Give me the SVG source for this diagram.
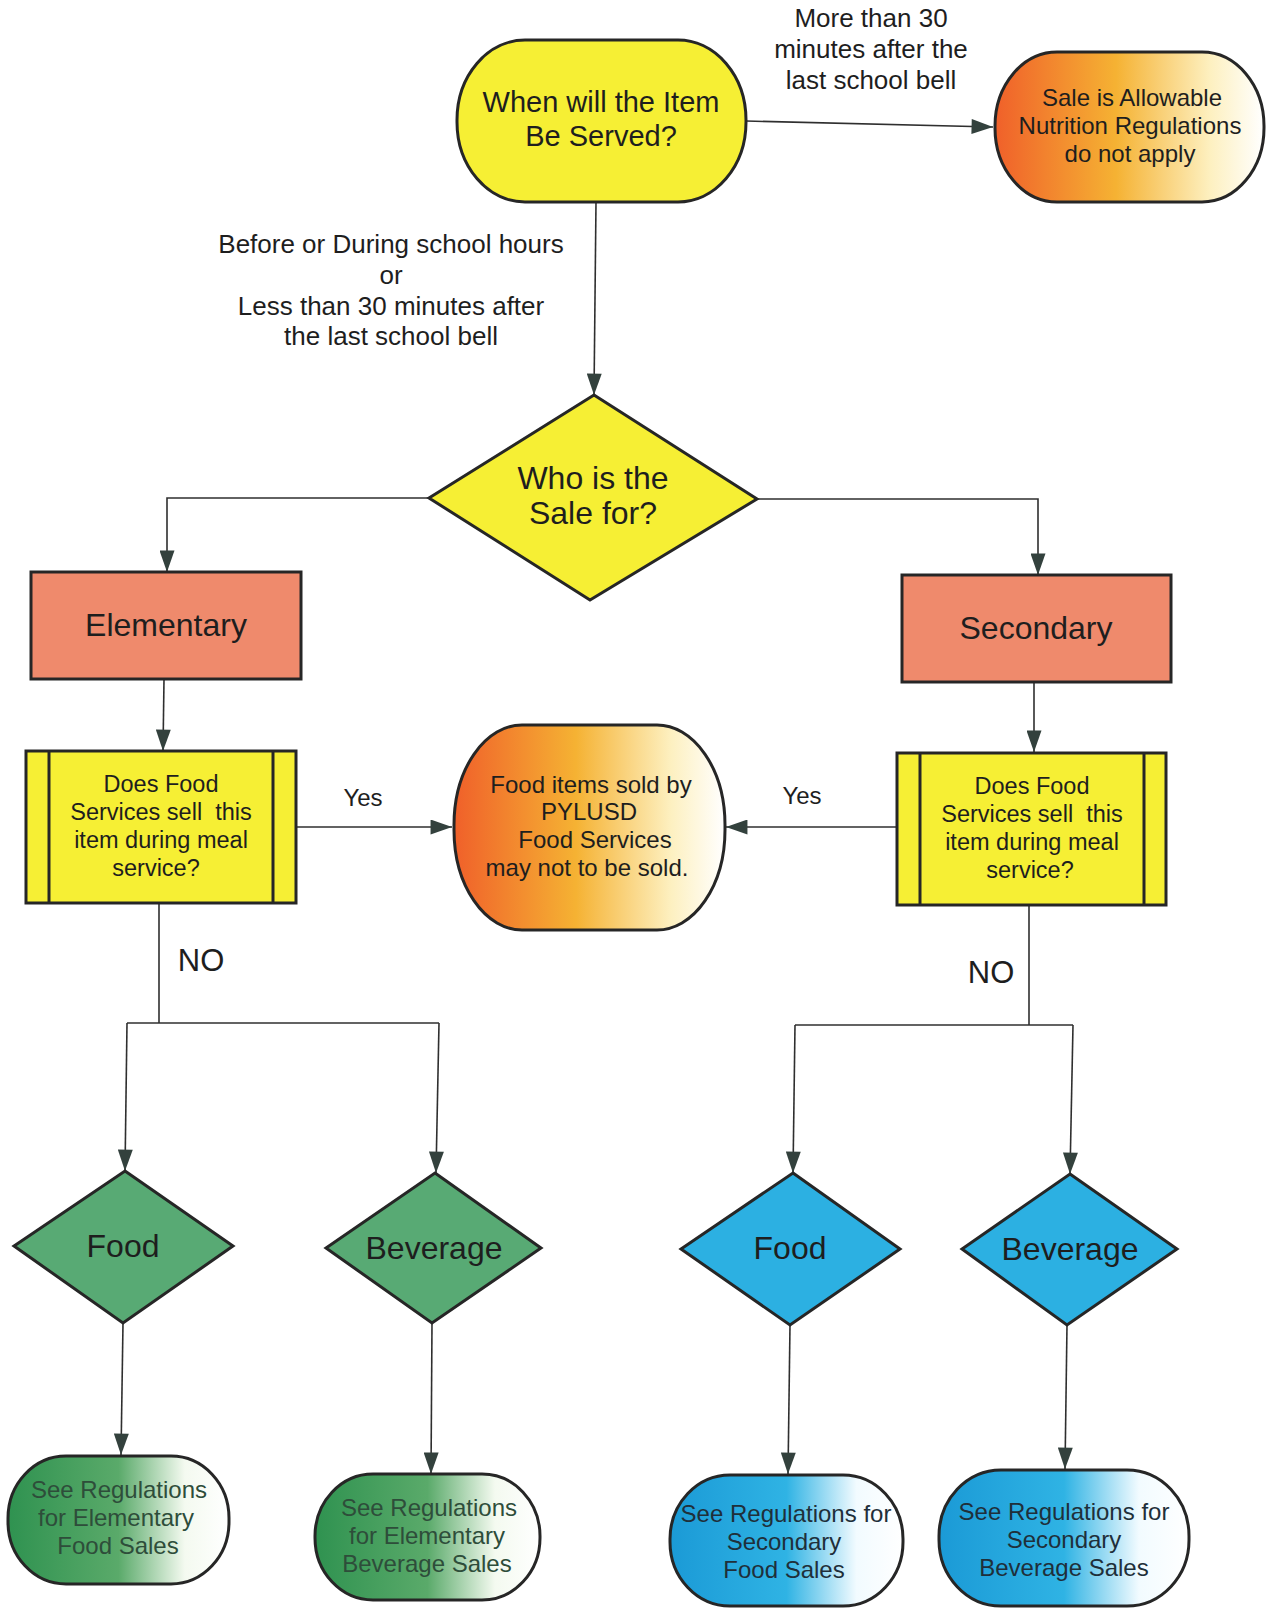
<svg xmlns="http://www.w3.org/2000/svg" width="1267" height="1608" viewBox="0 0 1267 1608">
<defs>
<marker id="arr" viewBox="0 0 20 14" refX="20" refY="7" markerWidth="22" markerHeight="15" markerUnits="userSpaceOnUse" orient="auto">
<path d="M0,0 L20,7 L0,14 z" fill="#33413d"/>
</marker>
<linearGradient id="gOrange" x1="0" y1="0" x2="1" y2="0">
<stop offset="0" stop-color="#f0602a"/>
<stop offset="0.45" stop-color="#f5b233"/>
<stop offset="0.8" stop-color="#fdf0c0"/>
<stop offset="1" stop-color="#ffffff"/>
</linearGradient>
<linearGradient id="gGreen" x1="0" y1="0" x2="1" y2="0">
<stop offset="0" stop-color="#2f9250"/>
<stop offset="0.5" stop-color="#5aaa6a"/>
<stop offset="0.8" stop-color="#f4faf0"/>
<stop offset="1" stop-color="#ffffff"/>
</linearGradient>
<linearGradient id="gBlue" x1="0" y1="0" x2="1" y2="0">
<stop offset="0" stop-color="#1b9ad6"/>
<stop offset="0.5" stop-color="#2fb3e4"/>
<stop offset="0.8" stop-color="#f2fbff"/>
<stop offset="1" stop-color="#ffffff"/>
</linearGradient>
</defs>
<style>
.t{font-family:"Liberation Sans",Arial,sans-serif;fill:#1e1e1e;text-anchor:middle;white-space:pre}
.node{stroke:#262626;stroke-width:3}
.yel{fill:#f6ef34}
.sal{fill:#ef8a6c}
.grn{fill:#58aa74}
.blu{fill:#2cb0e2}
.conn{fill:none;stroke:#2f2f2f;stroke-width:1.6}
.lbl{font-size:26px}
.big{font-size:29px}
.dia{font-size:32px}
.sm{font-size:23.5px}
.term{font-size:24px}
.ot{font-size:24px}
.gt{fill:#2e4d3a}
.bt{fill:#1f2f3a}
</style>

<g id="connectors">
<path class="conn" d="M746,121 L993,127" marker-end="url(#arr)"/>
<path class="conn" d="M596,202 L594,395" marker-end="url(#arr)"/>
<path class="conn" d="M429,498 L167,498 L167,572" marker-end="url(#arr)"/>
<path class="conn" d="M757,499 L1038,499 L1038,575" marker-end="url(#arr)"/>
<path class="conn" d="M164,679 L163,751" marker-end="url(#arr)"/>
<path class="conn" d="M1034,682 L1034,752" marker-end="url(#arr)"/>
<path class="conn" d="M296,827 L452,827" marker-end="url(#arr)"/>
<path class="conn" d="M897,827 L726,827" marker-end="url(#arr)"/>
<path class="conn" d="M159,903 L159,1023"/>
<path class="conn" d="M127,1023 L439,1023"/>
<path class="conn" d="M127,1023 L125,1171" marker-end="url(#arr)"/>
<path class="conn" d="M439,1023 L436,1173" marker-end="url(#arr)"/>
<path class="conn" d="M1029,905 L1029,1025"/>
<path class="conn" d="M795,1025 L1073,1025"/>
<path class="conn" d="M795,1025 L793,1173" marker-end="url(#arr)"/>
<path class="conn" d="M1073,1025 L1070,1174" marker-end="url(#arr)"/>
<path class="conn" d="M123,1323 L121,1455" marker-end="url(#arr)"/>
<path class="conn" d="M432,1323 L431,1474" marker-end="url(#arr)"/>
<path class="conn" d="M790,1325 L788,1474" marker-end="url(#arr)"/>
<path class="conn" d="M1067,1325 L1065,1469" marker-end="url(#arr)"/>
<text class="t lbl" x="871" y="27">More than 30</text>
<text class="t lbl" x="871" y="58">minutes after the</text>
<text class="t lbl" x="871" y="89">last school bell</text>
<text class="t lbl" x="391" y="253">Before or During school hours</text>
<text class="t lbl" x="391" y="284">or</text>
<text class="t lbl" x="391" y="315">Less than 30 minutes after</text>
<text class="t lbl" x="391" y="345">the last school bell</text>
<text class="t" style="font-size:24px" x="363" y="806">Yes</text>
<text class="t" style="font-size:24px" x="802" y="804">Yes</text>
<text class="t" style="font-size:31px" x="201" y="971">NO</text>
<text class="t" style="font-size:31px" x="991" y="983">NO</text>
</g>

<g id="node-when">
<rect class="node yel" x="457" y="40" width="289" height="162" rx="68" ry="80"/>
<text class="t big" x="601" y="112">When will the Item</text>
<text class="t big" x="601" y="146">Be Served?</text>
</g>

<g id="node-allowable">
<rect class="node" fill="url(#gOrange)" x="995" y="52" width="269" height="150" rx="62" ry="74"/>
<text class="t ot" x="1132" y="106">Sale is Allowable</text>
<text class="t ot" x="1130" y="134">Nutrition Regulations</text>
<text class="t ot" x="1130" y="162">do not apply</text>
</g>

<g id="node-who">
<polygon class="node yel" points="594,395 757,499 590,600 429,498"/>
<text class="t dia" x="593" y="489">Who is the</text>
<text class="t dia" x="593" y="524">Sale for?</text>
</g>

<g id="node-elementary">
<rect class="node sal" x="31" y="572" width="270" height="107"/>
<text class="t dia" x="166" y="636">Elementary</text>
</g>

<g id="node-secondary">
<rect class="node sal" x="902" y="575" width="269" height="107"/>
<text class="t dia" x="1036" y="639">Secondary</text>
</g>

<g id="node-q-elem">
<rect class="node yel" x="26" y="751" width="270" height="152"/>
<line class="node" x1="49" y1="751" x2="49" y2="903"/>
<line class="node" x1="273" y1="751" x2="273" y2="903"/>
<text class="t sm" x="161" y="792">Does Food</text>
<text class="t sm" x="161" y="820">Services sell  this</text>
<text class="t sm" x="161" y="848">item during meal</text>
<text class="t sm" x="156" y="876">service?</text>
</g>

<g id="node-q-sec">
<rect class="node yel" x="897" y="753" width="269" height="152"/>
<line class="node" x1="920" y1="753" x2="920" y2="905"/>
<line class="node" x1="1144" y1="753" x2="1144" y2="905"/>
<text class="t sm" x="1032" y="794">Does Food</text>
<text class="t sm" x="1032" y="822">Services sell  this</text>
<text class="t sm" x="1032" y="850">item during meal</text>
<text class="t sm" x="1030" y="878">service?</text>
</g>

<g id="node-notsold">
<rect class="node" fill="url(#gOrange)" x="454" y="725" width="271" height="205" rx="68" ry="100"/>
<text class="t ot" x="591" y="793">Food items sold by</text>
<text class="t ot" x="589" y="820">PYLUSD</text>
<text class="t ot" x="595" y="848">Food Services</text>
<text class="t ot" x="587" y="876">may not to be sold.</text>
</g>

<g id="node-elem-food">
<polygon class="node grn" points="125,1171 233,1246 123,1323 14,1246"/>
<text class="t dia" x="123" y="1257">Food</text>
</g>

<g id="node-elem-bev">
<polygon class="node grn" points="435,1173 541,1248 432,1323 326,1248"/>
<text class="t dia" x="434" y="1259">Beverage</text>
</g>

<g id="node-sec-food">
<polygon class="node blu" points="793,1173 900,1249 790,1325 681,1249"/>
<text class="t dia" x="790" y="1259">Food</text>
</g>

<g id="node-sec-bev">
<polygon class="node blu" points="1070,1174 1177,1249 1067,1325 962,1249"/>
<text class="t dia" x="1070" y="1260">Beverage</text>
</g>

<g id="node-elem-food-reg">
<rect class="node" fill="url(#gGreen)" x="8" y="1456" width="221" height="128" rx="58" ry="62"/>
<text class="t term gt" x="119" y="1498">See Regulations</text>
<text class="t term gt" x="116" y="1526">for Elementary</text>
<text class="t term gt" x="118" y="1554">Food Sales</text>
</g>

<g id="node-elem-bev-reg">
<rect class="node" fill="url(#gGreen)" x="315" y="1474" width="225" height="126" rx="58" ry="62"/>
<text class="t term gt" x="429" y="1516">See Regulations</text>
<text class="t term gt" x="427" y="1544">for Elementary</text>
<text class="t term gt" x="427" y="1572">Beverage Sales</text>
</g>

<g id="node-sec-food-reg">
<rect class="node" fill="url(#gBlue)" x="670" y="1475" width="233" height="131" rx="60" ry="64"/>
<text class="t term bt" x="786" y="1522">See Regulations for</text>
<text class="t term bt" x="784" y="1550">Secondary</text>
<text class="t term bt" x="784" y="1578">Food Sales</text>
</g>

<g id="node-sec-bev-reg">
<rect class="node" fill="url(#gBlue)" x="939" y="1470" width="250" height="136" rx="62" ry="66"/>
<text class="t term bt" x="1064" y="1520">See Regulations for</text>
<text class="t term bt" x="1064" y="1548">Secondary</text>
<text class="t term bt" x="1064" y="1576">Beverage Sales</text>
</g>
</svg>
